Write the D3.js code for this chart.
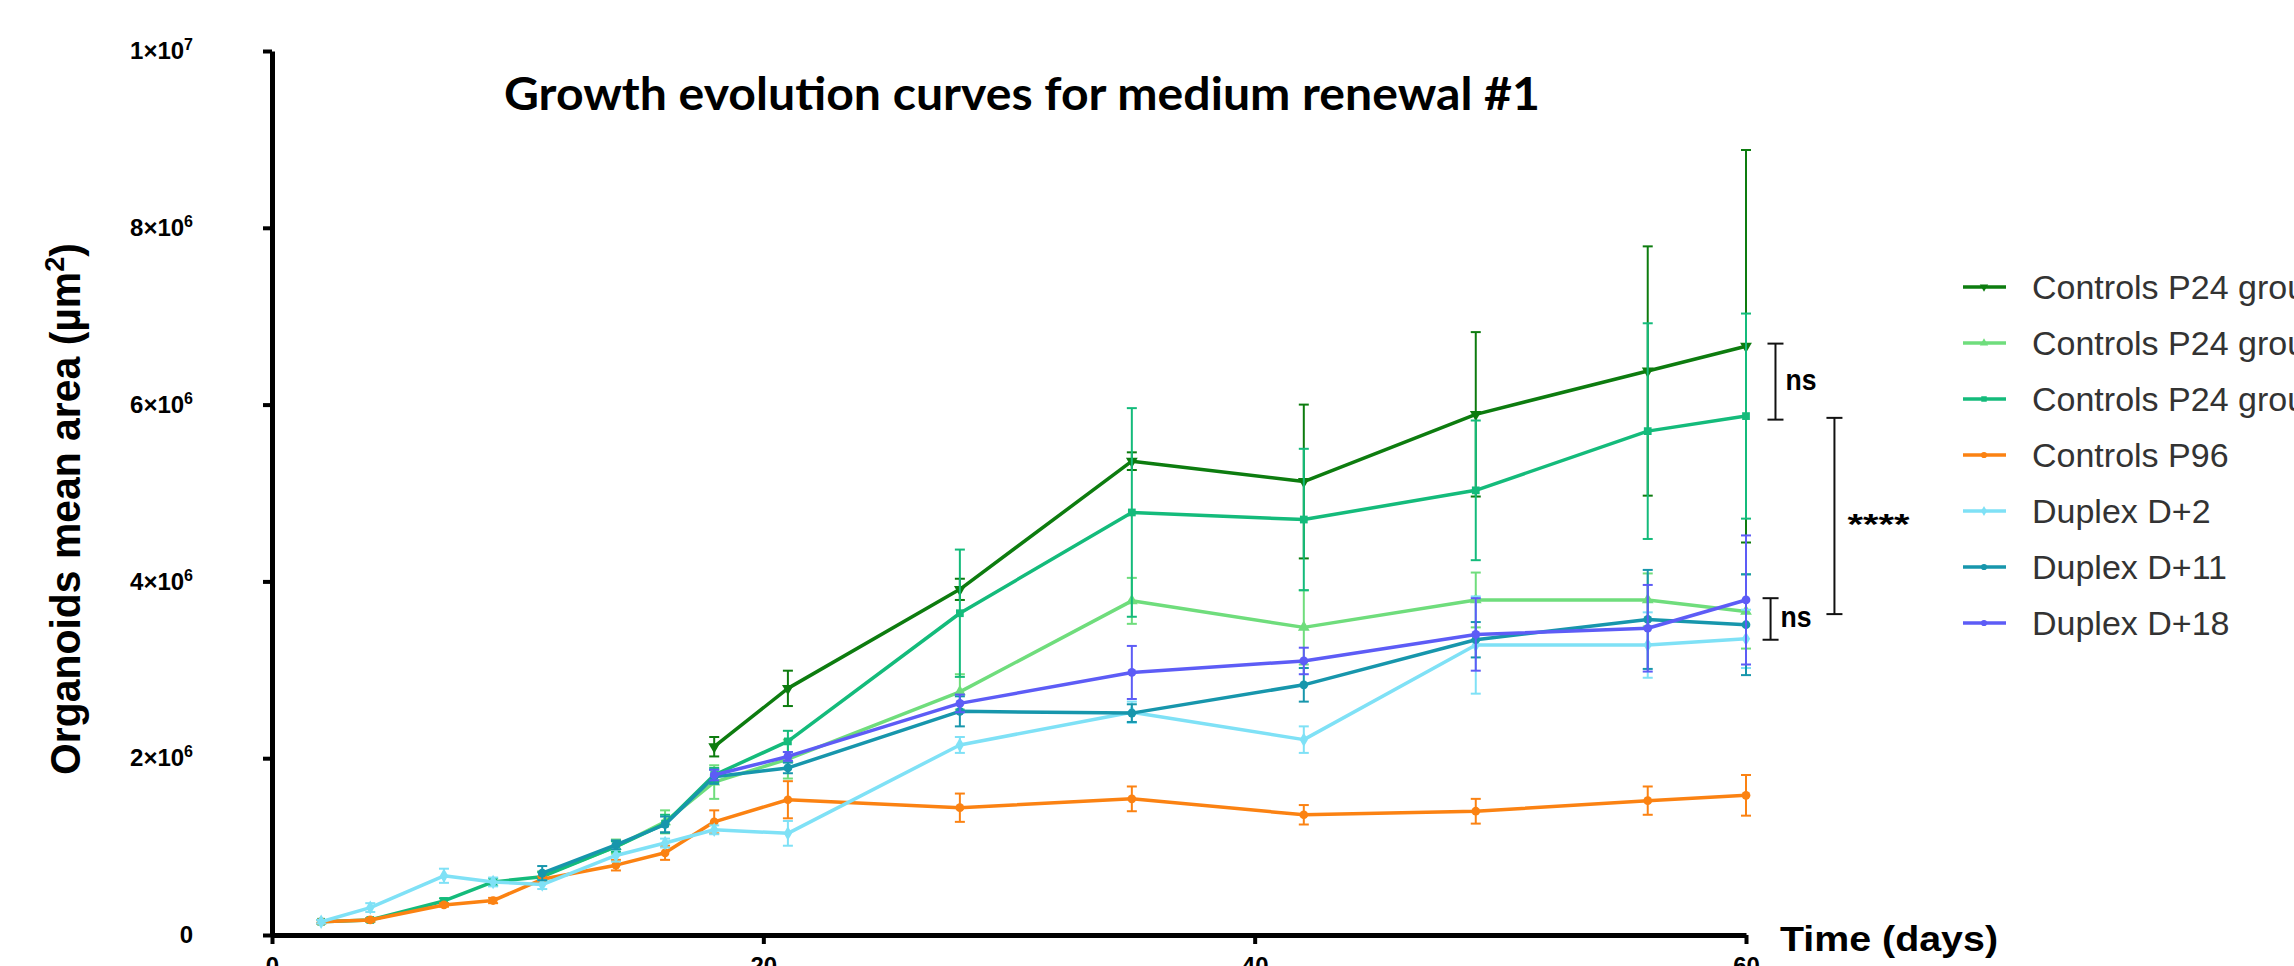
<!DOCTYPE html>
<html>
  <head>
    <meta charset="utf-8">
    <script src="https://d3js.org/d3.v7.min.js"></script>
    <title>Growth evolution curves</title>
    <style>
      body {
        margin: 0px;
        background: #ffffff;
      }
      .axis .domain {
        stroke: #000000;
        stroke-width: 5;
      }
      .axis .tick line {
        stroke: #000000;
        stroke-width: 4;
      }
      .axis .tick text {
        fill: #000000;
        font-family: "Liberation Sans", Arial, sans-serif;
        font-weight: bold;
        font-size: 24px;
      }
      .axis-label {
        fill: #000000;
        font-family: "Liberation Sans Narrow", "Liberation Sans", Arial, sans-serif;
        font-weight: bold;
      }
      .legend-label {
        fill: #333333;
        font-family: "Liberation Sans", Arial, sans-serif;
        font-size: 34px;
      }
      .sig-label {
        fill: #000000;
        font-family: "Liberation Sans", Arial, sans-serif;
        font-weight: bold;
        font-size: 30px;
      }
    </style>
  </head>
  <body>
    <svg width="2294" height="966"></svg>
    <script>
      // time points (days)
      const days = [2, 4, 7, 9, 11, 14, 16, 18, 21, 28, 35, 42, 49, 56, 60];

      // mean organoid area, in millions of µm², and error (same unit)
      const p24g1Mean = [null, null, null, null, null, null, null, 2.13, 2.79, 3.91, 5.36, 5.13, 5.89, 6.38, 6.66];
      const p24g1Err  = [null, null, null, null, null, null, null, 0.11, 0.20, 0.12, 0.10, 0.87, 0.93, 1.41, 2.22];
      const p24g2Mean = [null, null, null, null, 0.67, 1.00, 1.28, 1.73, 1.99, 2.75, 3.78, 3.48, 3.79, 3.79, 3.66];
      const p24g2Err  = [null, null, null, null, 0.05, 0.08, 0.13, 0.19, 0.22, 0.20, 0.26, 0.42, 0.31, 0.30, 0.42];
      const p24g3Mean = [0.15, 0.17, 0.385, 0.60, 0.66, 1.00, 1.26, 1.81, 2.19, 3.64, 4.78, 4.70, 5.03, 5.70, 5.87];
      const p24g3Err  = [0.02, 0.02, 0.03, 0.04, 0.05, 0.06, 0.10, 0.08, 0.12, 0.72, 1.18, 0.80, 0.79, 1.22, 1.16];
      const p96Mean   = [0.15, 0.17, 0.34, 0.39, 0.63, 0.79, 0.93, 1.28, 1.53, 1.44, 1.54, 1.36, 1.40, 1.52, 1.58];
      const p96Err    = [0.02, 0.02, 0.02, 0.03, 0.03, 0.06, 0.08, 0.13, 0.21, 0.16, 0.14, 0.11, 0.14, 0.16, 0.23];
      const d2Mean    = [0.15, 0.31, 0.67, 0.60, 0.57, 0.90, 1.04, 1.19, 1.15, 2.15, 2.52, 2.21, 3.28, 3.28, 3.35];
      const d2Err     = [0.02, 0.05, 0.08, 0.05, 0.05, 0.07, 0.05, 0.05, 0.14, 0.09, 0.12, 0.15, 0.55, 0.37, 0.33];
      const d11Mean   = [null, null, null, null, 0.70, 1.02, 1.25, 1.79, 1.89, 2.53, 2.51, 2.83, 3.34, 3.57, 3.51];
      const d11Err    = [null, null, null, null, 0.08, 0.05, 0.09, 0.08, 0.06, 0.17, 0.10, 0.19, 0.20, 0.56, 0.57];
      const d18Mean   = [null, null, null, null, null, null, null, 1.81, 2.02, 2.62, 2.97, 3.10, 3.40, 3.47, 3.79];
      const d18Err    = [null, null, null, null, null, null, null, 0.06, 0.05, 0.10, 0.30, 0.15, 0.41, 0.49, 0.73];

      const seriesNames = ['Controls P24 group 1', 'Controls P24 group 2', 'Controls P24 group 3',
        'Controls P96', 'Duplex D+2', 'Duplex D+11', 'Duplex D+18'];
      const seriesColors = ['#0d7c0f', '#6fdd7c', '#14bb7b', '#fb8212', '#7fe1f6', '#1796ac', '#5d5cf6'];
      const seriesSymbols = ['triangleDown', 'triangle', 'square', 'circle', 'diamond', 'circle', 'circle'];
      const seriesMeans = [p24g1Mean, p24g2Mean, p24g3Mean, p96Mean, d2Mean, d11Mean, d18Mean];
      const seriesErrs = [p24g1Err, p24g2Err, p24g3Err, p96Err, d2Err, d11Err, d18Err];

      const xTicks = [0, 20, 40, 60];
      const yTicks = [0, 2, 4, 6, 8, 10];

      // significance brackets: day position, top/bottom in millions µm²
      const sigDays = [61.2, 63.6, 61.0];
      const sigTops = [6.69, 5.85, 3.81];
      const sigBottoms = [5.83, 3.63, 3.34];
      const sigLabels = ['ns', '****', 'ns'];

      const title = 'Growth evolution curves for medium renewal #1';
      const xLabel = 'Time (days)';

      const svg = d3.select('svg');

      const xScale = d3.scaleLinear().domain([0, 60]).range([272, 1746]);
      const yScale = d3.scaleLinear().domain([0, 10]).range([935, 51]);

      const series = seriesNames.map((name, i) => ({
        name,
        color: seriesColors[i],
        symbol: seriesSymbols[i],
        points: days.map((d, j) => ({ day: d, mean: seriesMeans[i][j], err: seriesErrs[i][j] }))
          .filter(p => p.mean != null)
      }));

      // axes
      const yAxis = d3.axisLeft(yScale)
        .tickValues(yTicks)
        .tickSize(9)
        .tickSizeOuter(0)
        .tickPadding(70)
        .tickFormat(() => '');
      const yAxisG = svg.append('g').attr('class', 'axis')
        .attr('transform', 'translate(272,0)')
        .call(yAxis);
      yAxisG.selectAll('.tick text').each(function (v) {
        const t = d3.select(this);
        if (v === 0) { t.text('0'); return; }
        const mant = v === 10 ? 1 : v;
        const exp = v === 10 ? 7 : 6;
        t.append('tspan').text(mant + '×10');
        t.append('tspan').attr('dy', -9).attr('font-size', 16).text(exp);
      });

      const xAxis = d3.axisBottom(xScale)
        .tickValues(xTicks)
        .tickSize(9)
        .tickSizeOuter(0)
        .tickPadding(13);
      svg.append('g').attr('class', 'axis')
        .attr('transform', 'translate(0,935)')
        .call(xAxis);

      // axis labels and title
      const yLab = svg.append('text')
        .attr('class', 'axis-label')
        .attr('transform', 'translate(80,509) rotate(-90)')
        .attr('text-anchor', 'middle')
        .attr('font-size', 42)
        .attr('textLength', 532)
        .attr('lengthAdjust', 'spacingAndGlyphs');
      yLab.append('tspan').text('Organoids mean area (µm');
      yLab.append('tspan').attr('dy', -16).attr('font-size', 28).text('2');
      yLab.append('tspan').attr('dy', 16).text(')');

      svg.append('text')
        .attr('class', 'axis-label')
        .attr('x', 1780)
        .attr('y', 951)
        .attr('font-size', 35)
        .attr('textLength', 218)
        .attr('lengthAdjust', 'spacingAndGlyphs')
        .text(xLabel);

      svg.append('text')
        .attr('x', 504)
        .attr('y', 110)
        .attr('font-family', 'Lato, "Open Sans", sans-serif')
        .attr('font-weight', 'bold')
        .attr('font-size', 46)
        .attr('textLength', 1036)
        .attr('lengthAdjust', 'spacingAndGlyphs')
        .text(title);

      // series
      const line = d3.line().x(p => xScale(p.day)).y(p => yScale(p.mean));
      const symbolType = {
        circle: d3.symbolCircle, square: d3.symbolSquare, triangle: d3.symbolTriangle,
        triangleDown: d3.symbolTriangle, diamond: d3.symbolDiamond
      };

      const sG = svg.selectAll('.series').data(series).enter().append('g').attr('class', 'series');

      sG.each(function (s) {
        const g = d3.select(this);
        const eb = g.selectAll('.err').data(s.points.filter(p => p.err)).enter().append('g')
          .attr('stroke', s.color).attr('stroke-width', 2);
        eb.append('line')
          .attr('x1', p => xScale(p.day)).attr('x2', p => xScale(p.day))
          .attr('y1', p => yScale(p.mean + p.err)).attr('y2', p => yScale(p.mean - p.err));
        eb.append('line')
          .attr('x1', p => xScale(p.day) - 5).attr('x2', p => xScale(p.day) + 5)
          .attr('y1', p => yScale(p.mean + p.err)).attr('y2', p => yScale(p.mean + p.err));
        eb.append('line')
          .attr('x1', p => xScale(p.day) - 5).attr('x2', p => xScale(p.day) + 5)
          .attr('y1', p => yScale(p.mean - p.err)).attr('y2', p => yScale(p.mean - p.err));
      });

      sG.append('path')
        .attr('d', s => line(s.points))
        .attr('fill', 'none')
        .attr('stroke', s => s.color)
        .attr('stroke-width', 3.5)
        .attr('stroke-linejoin', 'round');

      sG.each(function (s) {
        d3.select(this).selectAll('.mark').data(s.points).enter().append('path')
          .attr('d', d3.symbol().type(symbolType[s.symbol]).size(60))
          .attr('transform', p => `translate(${xScale(p.day)},${yScale(p.mean)})` +
            (s.symbol === 'triangleDown' ? ' rotate(180)' : ''))
          .attr('fill', s.color);
      });

      // significance brackets
      sigLabels.forEach((lab, i) => {
        const bx = xScale(sigDays[i]);
        const y0 = yScale(sigTops[i]);
        const y1 = yScale(sigBottoms[i]);
        const g = svg.append('g').attr('stroke', '#111111').attr('stroke-width', 2);
        g.append('line').attr('x1', bx).attr('x2', bx).attr('y1', y0).attr('y2', y1);
        g.append('line').attr('x1', bx - 8).attr('x2', bx + 8).attr('y1', y0).attr('y2', y0);
        g.append('line').attr('x1', bx - 8).attr('x2', bx + 8).attr('y1', y1).attr('y2', y1);
        const isStars = lab === '****';
        svg.append('text')
          .attr('class', 'sig-label')
          .attr('x', bx + (isStars ? 13 : 10))
          .attr('y', (y0 + y1) / 2 + (isStars ? 18 : 8))
          .attr('textLength', isStars ? 62 : 31)
          .attr('lengthAdjust', 'spacingAndGlyphs')
          .text(lab);
      });

      // legend
      const legendG = svg.append('g');
      const legRow = legendG.selectAll('.leg').data(series).enter().append('g')
        .attr('transform', (s, i) => `translate(1963,${287 + i * 56})`);
      legRow.append('line')
        .attr('x1', 0).attr('x2', 43)
        .attr('stroke', s => s.color).attr('stroke-width', 3.5);
      legRow.append('path')
        .attr('d', s => d3.symbol().type(symbolType[s.symbol]).size(30)())
        .attr('transform', s => 'translate(21,0)' + (s.symbol === 'triangleDown' ? ' rotate(180)' : ''))
        .attr('fill', s => s.color);
      legRow.append('text')
        .attr('class', 'legend-label')
        .attr('x', 69)
        .attr('y', 12)
        .text(s => s.name);
    </script>
  </body>
</html>
